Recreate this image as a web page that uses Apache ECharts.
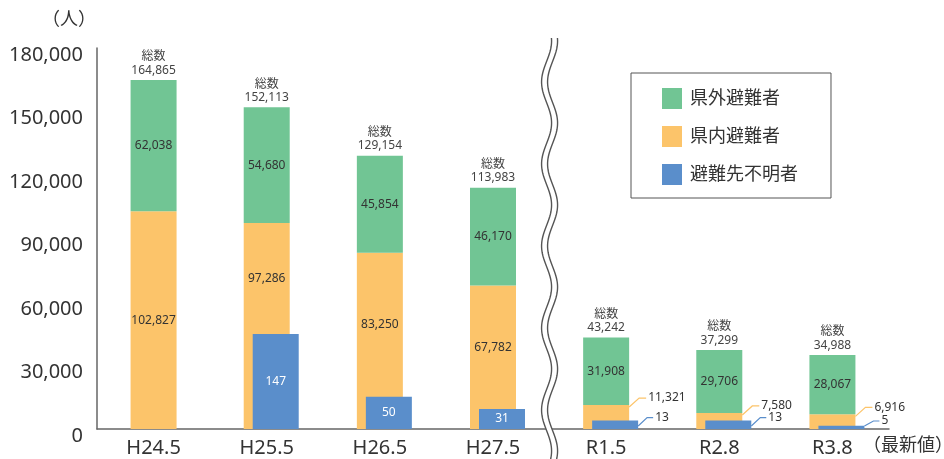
<!DOCTYPE html>
<html><head><meta charset="utf-8">
<script src="https://cdn.jsdelivr.net/npm/echarts@6/dist/echarts.min.js"></script>
<style>html,body{margin:0;padding:0;background:#fff}#c{width:944px;height:459px}</style>
</head><body><div id="c"></div>
<script>
// ---- data ----
const categories = ['H24.5','H25.5','H26.5','H27.5','R1.5','R2.8','R3.8'];
const outsidePref = [62038, 54680, 45854, 46170, 31908, 29706, 28067];   // 県外避難者
const insidePref  = [102827, 97286, 83250, 67782, 11321, 7580, 6916];    // 県内避難者
const unknownDest = [null, 147, 50, 31, 13, 13, 5];                      // 避難先不明者
const totals      = [164865, 152113, 129154, 113983, 43242, 37299, 34988];
const seriesNames = ['県外避難者', '県内避難者', '避難先不明者'];
const totalPrefix = '総数';
const yUnit = '（人）';
const latestNote = '（最新値）';
const calloutFrom = 4;

// ---- style ----
const FONT = '"Noto Sans", "Noto Sans CJK JP", sans-serif';
const C_GREEN = '#71C594', C_ORANGE = '#FCC46A', C_BLUE = '#5A8ECB';
const TXT = '#333', AXIS = '#666';
const BAR_W = 46;
const fmt = v => Number(v).toLocaleString('en-US');

const chart = echarts.init(document.getElementById('c'));

const orangeData = insidePref.map((v, i) => i >= calloutFrom ? {value: v, label: {show: false}} : v);
const blueData = unknownDest.map((v, i) => v == null ? '-' : (i >= calloutFrom ? {value: v, label: {show: false}} : v));
const totalData = categories.map((c, i) => [i, insidePref[i] + outsidePref[i], totals[i]]);
const orangeCallData = [], blueCallData = [];
for (let i = calloutFrom; i < categories.length; i++) {
  orangeCallData.push([i, insidePref[i]]);
  blueCallData.push([i, unknownDest[i]]);
}

const txtStyle = {fontSize: 12, color: TXT, fontFamily: FONT};

const option = {
  animation: false,
  textStyle: {fontFamily: FONT},
  grid: [
    {left: 97, right: 55, top: 48, bottom: 30},
    {left: 106, right: 46, top: 48, bottom: 30}
  ],
  legend: {
    data: seriesNames, orient: 'vertical', left: 631, top: 73,
    padding: [15, 33, 13, 31], itemWidth: 20, itemHeight: 21, itemGap: 17,
    borderColor: '#555', borderWidth: 1, icon: 'rect', selectedMode: false,
    textStyle: {fontSize: 18, color: TXT, fontFamily: FONT, padding: [0, 0, 0, 3]}
  },
  xAxis: [
    {type: 'category', gridIndex: 0, data: categories,
     axisLine: {lineStyle: {color: AXIS, width: 1.5}}, axisTick: {show: false},
     axisLabel: {fontSize: 20, color: TXT, margin: 9, fontFamily: FONT}},
    {type: 'category', gridIndex: 1, data: categories, show: false}
  ],
  yAxis: [
    {type: 'value', gridIndex: 0, min: 0, max: 180000, interval: 30000,
     axisLine: {show: true, lineStyle: {color: AXIS, width: 1.5}}, axisTick: {show: false},
     splitLine: {show: false},
     axisLabel: {margin: 14, formatter: v => '{s| }\n{v|' + fmt(v) + '}',
       rich: {s: {fontSize: 2, lineHeight: 14, height: 14},
              v: {fontSize: 20, lineHeight: 20, color: TXT, fontFamily: FONT, align: 'right'}}}},
    {type: 'value', gridIndex: 1, min: 0, max: 590, show: false, splitLine: {show: false}}
  ],
  series: [
    {name: seriesNames[1], type: 'bar', stack: 'pref', xAxisIndex: 0, yAxisIndex: 0,
     barWidth: BAR_W, itemStyle: {color: C_ORANGE}, data: orangeData,
     label: Object.assign({show: true, position: 'inside', formatter: p => fmt(p.value)}, txtStyle),
     labelLayout: function (p) {
       const i = p.dataIndex, r = p.rect;
       let bottom = r.y + r.height;
       if (unknownDest[i] != null) {
         const bt = chart.convertToPixel({gridIndex: 1}, [i, unknownDest[i]]);
         if (bt) bottom = Math.min(bottom, bt[1]);
       }
       return {x: r.x + r.width / 2, y: (r.y + bottom) / 2, align: 'center', verticalAlign: 'middle'};
     }},
    {name: seriesNames[0], type: 'bar', stack: 'pref', xAxisIndex: 0, yAxisIndex: 0,
     barWidth: BAR_W, itemStyle: {color: C_GREEN}, data: outsidePref,
     label: Object.assign({show: true, position: 'inside', formatter: p => fmt(p.value)}, txtStyle)},
    {name: seriesNames[2], type: 'bar', xAxisIndex: 1, yAxisIndex: 1,
     barWidth: BAR_W, itemStyle: {color: C_BLUE}, data: blueData,
     label: {show: true, position: 'inside', color: '#fff', fontSize: 12, fontFamily: FONT, formatter: p => fmt(p.value)}},
    {name: 'totals', type: 'custom', xAxisIndex: 0, yAxisIndex: 0, z: 5, data: totalData,
     renderItem: function (params, api) {
       const p = api.coord([api.value(0), api.value(1)]);
       return {type: 'text', x: p[0], y: p[1] - 3,
         style: {text: totalPrefix + '\n' + fmt(api.value(2)), align: 'center', verticalAlign: 'bottom',
                 fontSize: 12, fontFamily: FONT, fill: '#444', lineHeight: 13.5}};
     }},
    {name: 'orangeCallout', type: 'custom', xAxisIndex: 0, yAxisIndex: 0, z: 5, data: orangeCallData,
     renderItem: function (params, api) {
       const p = api.coord([api.value(0), api.value(1)]);
       const R = p[0] + BAR_W / 2, top = p[1], ly = top - 7;
       return {type: 'group', children: [
         {type: 'polyline', shape: {points: [[R, top + 2], [R + 10, ly], [R + 17, ly]]},
          style: {stroke: C_ORANGE, lineWidth: 1.2, fill: null}},
         {type: 'text', x: R + 19, y: ly,
          style: {text: fmt(api.value(1)), align: 'left', verticalAlign: 'middle', fontSize: 12, fontFamily: FONT, fill: TXT}}
       ]};
     }},
    {name: 'blueCallout', type: 'custom', xAxisIndex: 1, yAxisIndex: 1, z: 5, data: blueCallData,
     renderItem: function (params, api) {
       const p = api.coord([api.value(0), api.value(1)]);
       const b = api.coord([api.value(0), 0]);
       const R = p[0] + BAR_W / 2, top = p[1], bottom = b[1];
       const ly = Math.min(top - 3, bottom - 8);
       return {type: 'group', children: [
         {type: 'polyline', shape: {points: [[R, bottom - 3], [R + 9, ly], [R + 15, ly]]},
          style: {stroke: C_BLUE, lineWidth: 1.2, fill: null}},
         {type: 'text', x: R + 17, y: ly,
          style: {text: fmt(api.value(1)), align: 'left', verticalAlign: 'middle', fontSize: 12, fontFamily: FONT, fill: TXT}}
       ]};
     }}
  ]
};
chart.setOption(option);

// ---- axis break decoration & notes ----
const xa = chart.convertToPixel({xAxisIndex: 0}, categories[3]);
const xb = chart.convertToPixel({xAxisIndex: 0}, categories[4]);
const bx = (xa + xb) / 2;
function wave(offset) {
  const pts = [];
  for (let y = 38; y <= 460; y += 1.5) {
    pts.push([bx + offset - 5 * Math.cos(2 * Math.PI * (y - 82) / 82), y]);
  }
  return pts;
}
chart.setOption({
  graphic: [
    {type: 'polyline', z: 100, shape: {points: wave(0)}, style: {stroke: '#fff', lineWidth: 6, fill: null}},
    {type: 'polyline', z: 101, shape: {points: wave(-3)}, style: {stroke: '#555', lineWidth: 1.4, fill: null}},
    {type: 'polyline', z: 101, shape: {points: wave(3)}, style: {stroke: '#555', lineWidth: 1.4, fill: null}},
    {type: 'text', left: 42, top: 11, z: 100,
     style: {text: yUnit, fontSize: 18, fontFamily: FONT, fill: TXT}},
    {type: 'text', left: 863, top: 437, z: 100,
     style: {text: latestNote, fontSize: 18, fontFamily: FONT, fill: TXT}}
  ]
});
</script>
</body></html>
